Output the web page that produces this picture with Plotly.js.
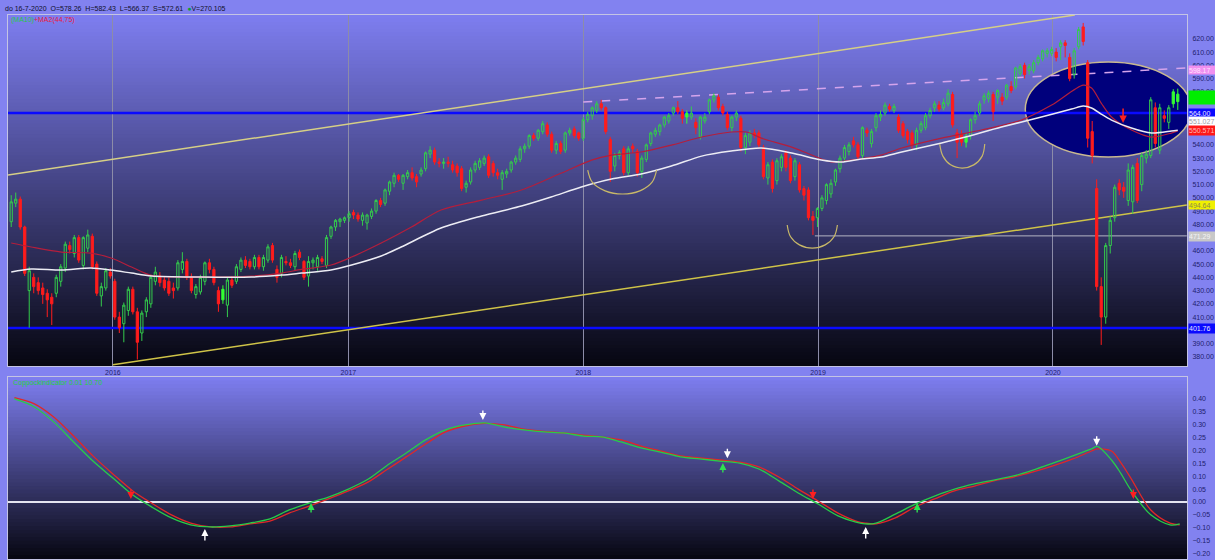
<!DOCTYPE html>
<html><head><meta charset="utf-8">
<script src="https://cdn.plot.ly/plotly-3.0.1.min.js"></script>
<style>html,body{margin:0;padding:0;background:#8282f0;}#chart{width:1215px;height:560px;}</style>
</head><body><div id="chart"></div>
<script>
// ---------- DATA ----------
const firstWeek = '2015-07-27';
const openV = [
482,496,499,478,430,440,436,432,428,425,
428,437,447,464,458,470,449,462,471,450,
426,432,444,437,410,405,415,431,414,398,
414,420,437,441,438,437,432,432,446,452,
440,427,429,437,451,446,430,423,419,438,
437,446,453,452,448,455,448,453,464,446,
443,452,451,448,459,452,441,451,448,454,
449,471,478,482,483,485,489,487,483,481,
486,490,498,496,505,511,517,511,516,519,
516,518,522,533,536,527,526,527,525,524,
522,508,512,521,523,526,531,526,519,514,
518,521,527,529,537,539,547,545,550,555,
548,536,541,536,549,552,549,545,559,562,
566,571,568,544,524,532,537,519,539,535,
520,529,541,548,550,555,558,564,568,565,
561,561,557,546,558,565,574,576,569,563,
553,561,560,538,542,549,549,538,515,527,
513,523,534,530,516,525,507,506,486,485,
492,498,503,512,522,530,535,543,540,532,
551,541,553,561,564,569,566,561,556,550,
549,540,551,553,562,568,570,568,571,578,
549,548,542,547,559,564,574,575,578,576,
576,576,584,584,594,600,596,596,602,605,
609,609,610,614,617,606,593,614,629,602,
550,507,433,410,464,485,511,508,498,497,
526,510,530,532,568,536,562,557,571,578.26];
const highV = [
502,504,501,479,448,443,440,436,431,428,
442,450,467,467,472,472,471,476,473,452,
436,447,447,439,414,421,433,433,417,415,
425,442,448,444,441,440,436,453,459,454,
443,435,442,452,454,448,433,434,440,441,
450,455,456,454,457,457,457,465,466,449,
457,456,454,460,461,453,456,455,457,456,
472,479,484,485,486,490,491,489,489,488,
492,499,500,507,513,519,518,518,521,523,
518,523,535,539,538,530,530,531,528,526,
524,513,523,528,530,532,533,528,522,521,
522,528,532,539,541,548,549,552,558,557,
550,543,543,550,553,554,550,561,565,569,
573,574,569,546,534,536,539,539,541,537,
532,541,550,553,556,562,564,569,573,567,
566,569,560,562,564,575,579,578,571,565,
562,566,562,549,551,552,551,540,527,529,
530,533,536,532,530,527,509,508,490,493,
502,511,514,522,532,540,542,546,542,554,
553,552,564,566,572,571,571,563,558,552,
551,553,558,564,568,573,573,575,582,580,
552,551,549,560,565,573,579,581,580,582,
579,586,588,599,601,602,601,604,608,612,
613,614,613,619,619,609,613,629,632,604,
558,514,440,466,486,510,514,512,526,525,
530,534,536,576,572,571,566,570,582,582.43];
const lowV = [
478,493,476,441,402,428,427,420,410,404,
425,433,444,458,455,451,446,459,446,426,
418,430,439,408,398,391,411,412,378,392,
410,417,434,433,430,426,424,430,443,438,
428,424,427,434,443,434,414,420,410,432,
435,444,447,446,446,446,445,451,451,436,
440,449,447,445,453,438,433,446,445,450,
447,469,475,478,481,482,484,482,479,476,
484,488,493,494,502,508,512,506,514,513,
508,516,520,530,525,523,522,523,519,516,
505,504,510,519,521,524,515,516,514,506,
515,519,525,527,534,537,543,543,548,546,
534,533,533,534,547,545,543,543,557,559,
564,566,548,512,520,529,517,517,534,516,
515,527,539,546,547,553,556,562,563,556,
556,559,548,544,556,563,572,566,562,551,
550,558,535,533,539,545,538,514,510,504,
510,520,520,511,513,504,498,483,472,478,
490,495,500,509,519,527,532,538,529,530,
546,538,550,558,562,565,564,549,545,541,
537,536,549,551,560,565,565,566,569,553,
530,539,538,544,556,562,571,572,558,571,
570,574,579,582,592,590,593,594,600,603,
606,607,603,604,606,588,590,612,615,538,
526,430,389,405,458,482,502,500,494,488,
496,505,526,530,538,533,557,552,568,566.37];
const closeV = [
497,499,478,443,445,433,430,427,423,420,
440,448,465,461,470,453,470,472,448,428,
433,445,441,410,402,419,431,414,391,413,
423,440,444,436,432,428,430,451,452,440,
430,433,440,451,446,436,420,431,438,434,
448,453,449,448,455,448,455,463,453,440,
455,451,449,458,455,440,452,453,455,452,
470,478,483,484,485,488,487,484,487,487,
490,498,495,506,512,517,514,517,519,515,
512,521,534,536,527,526,527,526,521,519,
507,511,521,526,528,530,517,519,517,519,
520,527,530,537,539,547,545,551,556,548,
536,541,535,549,551,547,545,559,563,568,
571,568,550,520,532,534,519,537,537,519,
530,540,549,551,555,561,562,568,565,560,
564,564,553,561,561,574,577,568,564,553,
561,564,538,547,549,547,540,516,525,507,
528,531,523,513,528,506,502,485,483,492,
500,510,511,521,530,538,540,540,531,553,
549,550,562,563,570,567,569,551,547,544,
540,551,556,562,566,571,567,572,579,555,
542,542,546,559,562,571,577,579,565,581,
573,585,581,598,599,593,599,602,606,611,
611,612,606,617,615,590,611,627,618,545,
532,433,410,464,483,508,506,505,521,523,
498,532,533,574,541,568,560,568,580,572.61];
const highlightIdx = [47, 150, 212, 258, 259];

const maDates = ['2015-07-27','2015-08-27','2015-10-13','2015-11-28','2015-12-29','2016-01-30','2016-03-01','2016-05-17','2016-08-03','2016-09-19','2016-10-20','2016-12-05','2017-01-06','2017-02-21','2017-03-24','2017-05-25','2017-07-27','2017-09-27','2017-11-12','2017-12-29','2018-02-14','2018-04-01','2018-05-18','2018-07-04','2018-08-19','2018-10-05','2018-11-21','2019-01-06','2019-02-06','2019-03-09','2019-04-09','2019-05-11','2019-07-12','2019-08-12','2019-10-13','2019-12-14','2020-01-30','2020-02-17','2020-03-01','2020-03-16','2020-04-01','2020-05-02','2020-06-02','2020-07-03','2020-07-13'];
const maSlow = [444.0,446.3,445.5,447.0,445.5,443.2,441.0,440.2,440.2,441.7,443.2,445.5,449.3,456.1,462.9,477.2,486.3,493.8,500.6,508.2,514.2,518.0,524.0,531.5,535.3,537.6,533.8,528.5,527.0,529.3,530.8,534.6,541.4,545.1,553.4,561.0,567.0,569.3,567.8,563.2,558.7,552.7,548.9,550.4,551.03];
const maFastDates = ['2015-07-27','2015-08-27','2015-10-13','2015-11-28','2015-12-29','2016-01-30','2016-03-01','2016-05-17','2016-08-03','2016-09-19','2016-10-20','2016-12-05','2017-01-06','2017-02-21','2017-04-09','2017-05-25','2017-07-27','2017-09-27','2017-11-28','2018-01-14','2018-02-14','2018-04-01','2018-05-18','2018-07-04','2018-08-19','2018-09-12','2018-10-05','2018-11-21','2018-12-22','2019-01-22','2019-02-22','2019-04-09','2019-05-11','2019-07-12','2019-09-12','2019-11-13','2019-12-30','2020-02-17','2020-03-01','2020-03-16','2020-04-01','2020-05-02','2020-06-02','2020-07-03','2020-07-13'];
const maFast = [465.9,462.9,459.1,458.3,454.6,447.8,441.5,440.2,440.9,443.2,446.0,449.3,455.3,465.9,478.0,490.8,498.3,505.9,518.7,528.5,532.3,534.6,539.8,545.9,549.7,549.7,545.1,538.3,532.3,527.0,528.5,532.3,537.6,545.1,551.2,558.7,570.0,585.1,582.9,571.5,561.0,551.2,545.9,548.9,550.57];

const indDates = ['2015-08-01','2015-09-01','2015-10-01','2015-11-01','2015-12-01',
'2016-01-01','2016-02-01','2016-03-01','2016-04-01','2016-05-01','2016-06-01','2016-07-01','2016-08-01','2016-09-01','2016-10-01','2016-11-01','2016-12-01',
'2017-01-01','2017-02-01','2017-03-01','2017-04-01','2017-05-01','2017-06-01','2017-07-01','2017-08-01','2017-09-01','2017-10-01','2017-11-01','2017-12-01',
'2018-01-01','2018-02-01','2018-03-01','2018-04-01','2018-05-01','2018-06-01','2018-07-01','2018-08-01','2018-09-01','2018-10-01','2018-11-01','2018-12-01',
'2019-01-01','2019-02-01','2019-03-01','2019-03-15','2019-04-01','2019-05-01','2019-06-01','2019-07-01','2019-08-01','2019-09-01','2019-10-01','2019-11-01','2019-12-01',
'2020-01-01','2020-02-01','2020-03-01','2020-03-10','2020-04-01','2020-04-15','2020-05-01','2020-06-01','2020-07-01','2020-07-16'];
const indGreen = [0.400,0.369,0.311,0.233,0.159,
0.093,0.027,-0.019,-0.062,-0.089,-0.097,-0.093,-0.082,-0.066,-0.031,-0.004,0.019,
0.050,0.089,0.140,0.190,0.241,0.280,0.299,0.307,0.291,0.280,0.272,0.268,
0.256,0.252,0.233,0.210,0.194,0.175,0.167,0.159,0.151,0.128,0.082,0.035,
-0.008,-0.054,-0.078,-0.085,-0.082,-0.047,-0.008,0.023,0.050,0.070,0.085,0.101,0.124,
0.151,0.179,0.206,0.216,0.163,0.113,0.047,-0.050,-0.089,-0.085];
const indRed = [0.405,0.381,0.330,0.256,0.179,
0.109,0.043,-0.004,-0.050,-0.082,-0.097,-0.097,-0.085,-0.074,-0.043,-0.016,0.012,
0.043,0.078,0.124,0.175,0.225,0.272,0.295,0.305,0.299,0.283,0.274,0.268,
0.260,0.252,0.241,0.217,0.198,0.179,0.171,0.163,0.155,0.136,0.097,0.050,
0.004,-0.043,-0.074,-0.082,-0.085,-0.062,-0.019,0.012,0.043,0.062,0.082,0.097,0.117,
0.140,0.167,0.198,0.206,0.198,0.155,0.093,-0.031,-0.082,-0.089];

const yearTicks = ['2016-01-01','2017-01-01','2018-01-01','2019-01-01','2020-01-01'];
const yearLabels = ['2016','2017','2018','2019','2020'];
const priceTicks = [380,390,410,420,430,440,450,460,480,490,500,510,520,530,540,580,590,600,610,620];
const indTicks = [-0.20,-0.15,-0.10,-0.05,0.00,0.05,0.10,0.15,0.20,0.25,0.30,0.35,0.40];

const arc1X = ['2018-01-08','2018-01-15','2018-02-04','2018-03-03','2018-03-30','2018-04-18','2018-04-25'];
const arc1Y = [521.0,511.9,505.3,502.9,505.3,511.9,521.0];
const arc2X = ['2018-11-14','2018-11-19','2018-12-03','2018-12-23','2019-01-12','2019-01-26','2019-01-31'];
const arc2Y = [479.5,470.8,464.5,462.1,464.5,470.8,479.5];
const arc3X = ['2019-07-09','2019-07-14','2019-07-26','2019-08-13','2019-08-31','2019-09-13','2019-09-17'];
const arc3Y = [540.6,531.5,524.9,522.5,524.9,531.5,540.6];

const levelBlueHi = 564.00, levelBlueLo = 401.76, levelGray = 471.29;
const lastClose = 572.61, maSlowLast = '551.027', maFastLast = '550.571';

// ---------- BUILD ----------
const weekDates = [];
const t0 = Date.parse(firstWeek + 'T00:00:00Z');
for (let i = 0; i < closeV.length; i++) weekDates.push(new Date(t0 + i * 7 * 86400000).toISOString().slice(0, 10));
const isHl = i => highlightIdx.includes(i);
const pick = (arr, want) => arr.map((v, i) => (isHl(i) === want ? v : null));

const FONT = 'Liberation Sans, Arial, sans-serif';
const traces = [
  {type:'candlestick', x:weekDates, open:pick(openV,false), high:pick(highV,false), low:pick(lowV,false), close:pick(closeV,false),
   increasing:{line:{color:'#34cc4c', width:1}, fillcolor:'rgba(0,0,0,0)'},
   decreasing:{line:{color:'#ff1c1c', width:1}, fillcolor:'#ff1c1c'},
   whiskerwidth:0, hoverinfo:'skip', showlegend:false, xaxis:'x', yaxis:'y'},
  {type:'candlestick', x:weekDates, open:pick(openV,true), high:pick(highV,true), low:pick(lowV,true), close:pick(closeV,true),
   increasing:{line:{color:'#33ff33', width:1}, fillcolor:'#33ff33'},
   decreasing:{line:{color:'#33ff33', width:1}, fillcolor:'#33ff33'},
   whiskerwidth:0, hoverinfo:'skip', showlegend:false, xaxis:'x', yaxis:'y'},
  {type:'scatter', mode:'lines', x:maFastDates, y:maFast, line:{color:'#b41e3c', width:1.2, shape:'spline', smoothing:0.8}, hoverinfo:'skip', showlegend:false},
  {type:'scatter', mode:'lines', x:maDates, y:maSlow, line:{color:'#ececf4', width:1.5, shape:'spline', smoothing:0.8}, hoverinfo:'skip', showlegend:false},
  {type:'scatter', mode:'lines', x:arc1X, y:arc1Y, line:{color:'#c8b868', width:1.2, shape:'spline'}, hoverinfo:'skip', showlegend:false},
  {type:'scatter', mode:'lines', x:arc2X, y:arc2Y, line:{color:'#c8b868', width:1.2, shape:'spline'}, hoverinfo:'skip', showlegend:false},
  {type:'scatter', mode:'lines', x:arc3X, y:arc3Y, line:{color:'#c8b868', width:1.2, shape:'spline'}, hoverinfo:'skip', showlegend:false},
  {type:'scatter', mode:'lines', x:indDates, y:indRed, line:{color:'#e02828', width:1.3, shape:'spline', smoothing:0.9}, hoverinfo:'skip', showlegend:false, xaxis:'x2', yaxis:'y2'},
  {type:'scatter', mode:'lines', x:indDates, y:indGreen, line:{color:'#28cc48', width:1.3, shape:'spline', smoothing:0.9}, hoverinfo:'skip', showlegend:false, xaxis:'x2', yaxis:'y2'}
];

// background gradients (overlapping bands to avoid seams)
const shapes = [];
function grad(y0, y1, n, top, bot) {
  const h = (y1 - y0) / n;
  for (let k = 0; k < n; k++) {
    const t = (k + 0.5) / n;
    const c = top.map((v, j) => Math.round(v + (bot[j] - v) * t));
    const yb = Math.max(y0, y1 - (k + 1) * h - (k < n - 1 ? h * 0.8 : 0));
    shapes.push({type:'rect', xref:'paper', yref:'paper', x0:0, x1:1, y0:yb, y1:y1 - k * h,
      fillcolor:`rgb(${c[0]},${c[1]},${c[2]})`, line:{width:0}, layer:'below'});
  }
}
const TOPD = [0.3548, 1], BOTD = [0, 0.3346];
grad(TOPD[0], TOPD[1], 100, [126,126,240], [6,6,16]);
grad(BOTD[0], BOTD[1], 50, [126,126,240], [6,6,16]);

const xL = '2015-07-22', xR = '2020-07-27';
shapes.push({type:'circle', xref:'x', yref:'y', x0:'2019-11-19', x1:'2020-08-03', y0:530.8, y1:602.5, fillcolor:'#00007c', line:{color:'#c8b890', width:1.5}, layer:'between'});
shapes.push({type:'line', xref:'x', yref:'y', x0:xL, x1:xR, y0:levelBlueHi, y1:levelBlueHi, line:{color:'#0a0aff', width:2.5}, layer:'between'});
shapes.push({type:'line', xref:'x', yref:'y', x0:xL, x1:xR, y0:levelBlueLo, y1:levelBlueLo, line:{color:'#0a0aff', width:2.5}, layer:'between'});
shapes.push({type:'line', xref:'x', yref:'y', x0:'2018-12-27', x1:xR, y0:levelGray, y1:levelGray, line:{color:'#b4b4c4', width:1}, layer:'between'});
shapes.push({type:'line', xref:'x', yref:'y', x0:'2015-07-22', x1:'2020-02-04', y0:517.2, y1:638.0, line:{color:'#d6cf86', width:1.5}, layer:'between'});
shapes.push({type:'line', xref:'x', yref:'y', x0:'2016-01-01', x1:xR, y0:374.0, y1:494.6, line:{color:'#cfc348', width:1.5}, layer:'between'});
shapes.push({type:'line', xref:'x', yref:'y', x0:'2018-01-01', x1:xR, y0:572.3, y1:598.0, line:{color:'#d4a4ec', width:1.5, dash:'dash'}, layer:'between'});

const ann = [];
ann.push({xref:'paper', yref:'paper', x:0, y:1, xanchor:'left', yanchor:'middle', xshift:-5, yshift:7, showarrow:false,
  text:'do 16-7-2020  O=578.26  H=582.43  L=566.37  S=572.61  <span style="color:#10a030">●</span>V=270.105', font:{family:FONT, size:7, color:'#10102a'}});
ann.push({xref:'paper', yref:'paper', x:0, y:1, xanchor:'left', yanchor:'middle', xshift:1, yshift:-5, showarrow:false,
  text:'<span style="color:#28c848">(MA10)</span><span style="color:#e8203c">+MA2(44,75)</span>', font:{family:FONT, size:7}});
ann.push({xref:'paper', yref:'paper', x:0, y:BOTD[1], xanchor:'left', yanchor:'middle', xshift:3, yshift:-6, showarrow:false,
  text:'Coppockindicator 0.01 10.70', font:{family:FONT, size:7, color:'#22d040'}});
function rlab(v, txt, bg, fg, h) {
  ann.push({xref:'paper', yref:'y', x:1, y:v, xanchor:'left', yanchor:'middle', xshift:1, showarrow:false, text:txt,
    bgcolor:bg, width:27, height:h || 9, align:'left', borderpad:0, font:{family:FONT, size:7, color:fg}});
}
rlab(596.6, '598.17', '#f090f0', '#ffe0ff', 8);
rlab(575.7, lastClose.toFixed(2), '#00ee00', '#00ee00', 13);
rlab(levelBlueHi, levelBlueHi.toFixed(2), '#0a0aff', '#e8e8ff');
rlab(558.0, maSlowLast, '#ffffff', '#a0a0a8');
rlab(550.8, maFastLast, '#ff1818', '#ffb8b8');
rlab(494.8, '494.64', '#f0f000', '#8a8a50', 8);
rlab(471.2, levelGray.toFixed(2), '#c8c8c8', '#f4f4f4');
rlab(levelBlueLo, levelBlueLo.toFixed(2), '#0a0aff', '#e8e8ff');

function arrow(xr, yr, x, y, ay, col, w) {
  ann.push({xref:xr, yref:yr, x:x, y:y, ax:0, ay:ay, text:'', showarrow:true, arrowhead:2, arrowsize:1, arrowwidth:w || 1.4, arrowcolor:col});
}
arrow('x', 'y', '2020-04-19', 556.5, -16, '#ff2020', 1.5);
arrow('x2', 'y2', '2016-01-29', 0.012, -11, '#ff2020');
arrow('x2', 'y2', '2018-12-24', 0.012, -11, '#ff2020');
arrow('x2', 'y2', '2020-05-05', 0.012, -11, '#ff2020');
arrow('x2', 'y2', '2016-11-04', -0.004, 11, '#30e050');
arrow('x2', 'y2', '2018-08-06', 0.151, 11, '#30e050');
arrow('x2', 'y2', '2019-06-04', -0.004, 11, '#30e050');
arrow('x2', 'y2', '2016-05-23', -0.105, 13, '#ffffff');
arrow('x2', 'y2', '2019-03-16', -0.097, 13, '#ffffff');
arrow('x2', 'y2', '2017-07-29', 0.318, -11, '#ffffff');
arrow('x2', 'y2', '2018-08-13', 0.170, -11, '#ffffff');
arrow('x2', 'y2', '2020-03-09', 0.218, -11, '#ffffff');

const xRange = ['2015-07-22', '2020-07-27 08:00'];
const frame = '#c4c4e4';
const layout = {
  width:1215, height:560, margin:{l:8, r:28, t:15, b:1}, paper_bgcolor:'#8282f0', plot_bgcolor:'rgba(0,0,0,0)',
  showlegend:false, hovermode:false, font:{family:FONT, size:7, color:'#1e1e6e'},
  xaxis:{type:'date', domain:[0,1], anchor:'y', range:xRange, rangeslider:{visible:false}, tickmode:'array', tickvals:yearTicks, ticktext:yearLabels,
    showgrid:true, gridcolor:'#8c8ca8', gridwidth:1, ticks:'', tickfont:{size:7, color:'#1e1e6e'}, showline:true, linecolor:frame, mirror:true, zeroline:false, fixedrange:true},
  yaxis:{domain:TOPD, range:[373.1, 638.0], side:'right', tickmode:'array', tickvals:priceTicks, tickformat:'.2f', showgrid:false, zeroline:false, ticks:'outside', ticklen:3, tickcolor:'rgba(0,0,0,0)',
    tickfont:{size:7, color:'#1e1e6e'}, showline:true, linecolor:frame, mirror:true, fixedrange:true},
  xaxis2:{type:'date', domain:[0,1], anchor:'y2', matches:'x', range:xRange, showticklabels:false, showgrid:false, ticks:'', showline:true, linecolor:frame, mirror:true, zeroline:false, fixedrange:true},
  yaxis2:{domain:BOTD, range:[-0.2214, 0.4854], side:'right', tickmode:'array', tickvals:indTicks, tickformat:'.2f', showgrid:false, zeroline:true, zerolinecolor:'#e4e4f0', zerolinewidth:1.3,
    ticks:'outside', ticklen:3, tickcolor:'rgba(0,0,0,0)', tickfont:{size:7, color:'#1e1e6e'}, showline:true, linecolor:frame, mirror:true, fixedrange:true},
  shapes:shapes, annotations:ann
};
Plotly.newPlot('chart', traces, layout, {displayModeBar:false, staticPlot:true});
</script>
</body></html>
